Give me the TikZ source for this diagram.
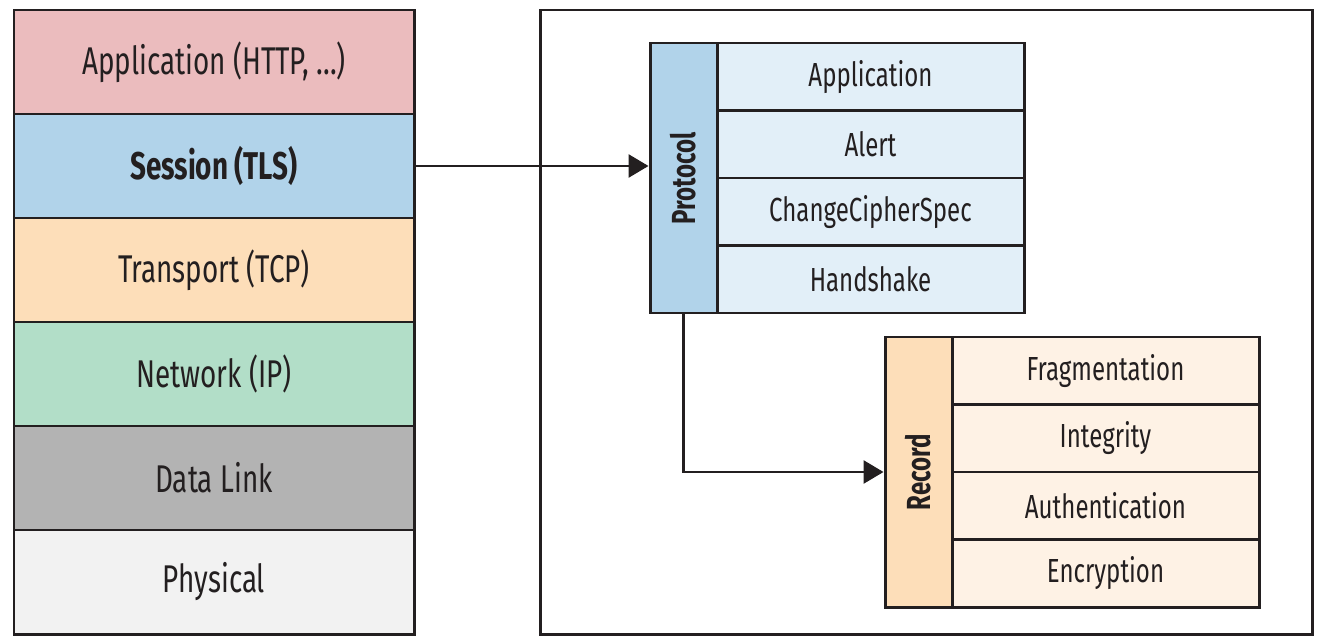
\documentclass[tikz,border=0pt]{standalone}
\usepackage{fontspec}
\setmainfont[FakeStretch=0.72]{Fira Sans}
\usepackage{tikz}
\usetikzlibrary{positioning,calc,arrows.meta}
\definecolor{inkdark}{HTML}{231F20}
\definecolor{apppink}{RGB}{235,188,190}
\definecolor{sessionblue}{RGB}{177,211,234}
\definecolor{transportpeach}{RGB}{253,222,185}
\definecolor{networkgreen}{RGB}{178,222,200}
\definecolor{linkgray}{RGB}{179,179,179}
\definecolor{physgray}{RGB}{242,242,242}
\definecolor{protopanel}{RGB}{226,239,248}
\definecolor{recordpanel}{RGB}{254,242,229}

\begin{document}
\begin{tikzpicture}[layer/.style={draw=inkdark, line width=1.7pt, minimum width=8cm, minimum height=2.08cm, inner sep=0pt, text=inkdark, font=\fontsize{22}{26}\selectfont}, sublayer/.style={draw=inkdark, line width=1.7pt, minimum width=6.14cm, minimum height=1.35cm, inner sep=0pt, text=inkdark, font=\fontsize{19}{23}\selectfont}, sidelabel/.style={draw=inkdark, line width=1.7pt, minimum width=1.34cm, minimum height=5.4cm, inner sep=0pt, text=inkdark, font=\fontsize{19}{23}\selectfont\bfseries}, arrow/.style={-{Triangle[length=0.4cm, width=0.46cm]}, draw=inkdark, line width=1.6pt}]
\useasboundingbox (0,0) rectangle (26.36,12.72);
% protocol stack
\node[layer, fill=apppink] (l0) at (4.28,11.48) {Application (HTTP, ...)};
\node[layer, fill=sessionblue, font=\fontsize{22}{26}\selectfont\bfseries] (l1) at (4.28,9.40) {Session (TLS)};
\node[layer, fill=transportpeach] (l2) at (4.28,7.32) {Transport (TCP)};
\node[layer, fill=networkgreen] (l3) at (4.28,5.24) {Network (IP)};
\node[layer, fill=linkgray] (l4) at (4.28,3.16) {Data Link};
\node[layer, fill=physgray] (l5) at (4.28,1.08) {Physical};
% TLS frame
\node[draw=inkdark, line width=1.7pt, minimum width=15.44cm, minimum height=12.48cm, inner sep=0pt] (tls) at (18.52,6.28) {};
% protocol layer
\node[sidelabel, fill=sessionblue] (proto) at (13.67,9.16) {\rotatebox{90}{Protocol}};
\node[sublayer, fill=protopanel] (p0) at (17.41,11.185) {Application};
\node[sublayer, fill=protopanel] (p1) at (17.41,9.835) {Alert};
\node[sublayer, fill=protopanel] (p2) at (17.41,8.485) {ChangeCipherSpec};
\node[sublayer, fill=protopanel] (p3) at (17.41,7.135) {Handshake};
% record layer
\node[sidelabel, fill=transportpeach] (rec) at (18.37,3.28) {\rotatebox{90}{Record}};
\node[sublayer, fill=recordpanel] (r0) at (22.11,5.305) {Fragmentation};
\node[sublayer, fill=recordpanel] (r1) at (22.11,3.955) {Integrity};
\node[sublayer, fill=recordpanel] (r2) at (22.11,2.605) {Authentication};
\node[sublayer, fill=recordpanel] (r3) at (22.11,1.255) {Encryption};
\draw[arrow] (l1.east) -- (l1.east -| proto.west);
\draw[arrow] (proto.south) |- (rec.west);
\end{tikzpicture}
\end{document}
